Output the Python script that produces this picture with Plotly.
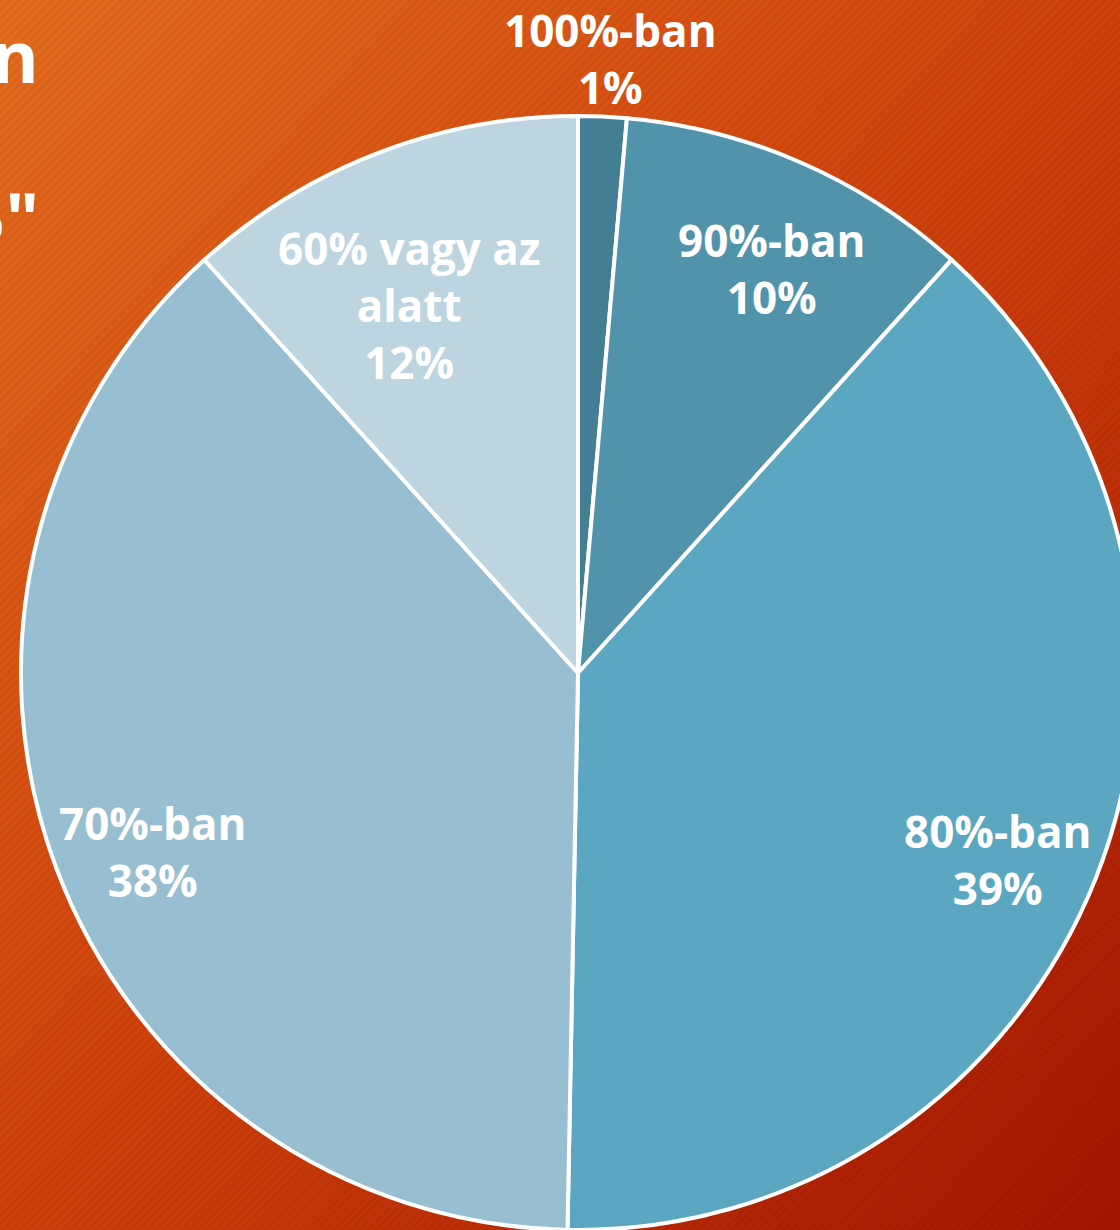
import base64, math
import plotly.graph_objects as go

# ---- data ----
categories = ["100%-ban", "90%-ban", "80%-ban", "70%-ban", "60% vagy az<br>alatt"]
shares = [1.4, 10.3, 38.6, 38.0, 11.7]
slice_colors = ["#437e93", "#5193ab", "#5ba6c0", "#98bed1", "#bdd5e0"]

# ---- layout constants ----
W, H = 1140, 1230
CX, CY, R = 578, 673, 557
LABEL_RADIUS = [1.11, 0.80, 0.825, 0.83, 0.715]
LABEL_ANGLE_SHIFT = [0.5, 2.2, 2.6, -2.5, -4.0]   # degrees
LABEL_DY = [3, -3, -2, -2, -7]                     # px fine tuning
FONT = "Open Sans"

bg_svg = f'''<svg xmlns="http://www.w3.org/2000/svg" width="{W}" height="{H}">
<defs>
<linearGradient id="g" x1="0" y1="0" x2="1" y2="1">
<stop offset="0" stop-color="#e46d1e"/>
<stop offset="0.5" stop-color="#cf410c"/>
<stop offset="1" stop-color="#a31400"/>
</linearGradient>
<pattern id="p" width="6" height="6" patternUnits="userSpaceOnUse" patternTransform="rotate(45)">
<rect width="3" height="6" fill="#000" opacity="0.045"/>
</pattern>
</defs>
<rect width="{W}" height="{H}" fill="url(#g)"/>
<rect width="{W}" height="{H}" fill="url(#p)"/>
</svg>'''
bg_uri = "data:image/svg+xml;base64," + base64.b64encode(bg_svg.encode()).decode()

dom_x = [max(0.0, (CX - R) / W), min(1.0, (CX + R) / W)]
dom_y = [max(0.0, (H - CY - R) / H), min(1.0, (H - CY + R) / H)]

fig = go.Figure(go.Pie(
    labels=categories,
    values=shares,
    sort=False,
    direction="clockwise",
    rotation=0,
    marker=dict(colors=slice_colors, line=dict(color="white", width=4)),
    textinfo="none",
    hoverinfo="label+percent",
    showlegend=False,
    domain=dict(x=dom_x, y=dom_y),
))

total = sum(shares)
cum = 0.0
for lab, v, k, sh, dy in zip(categories, shares, LABEL_RADIUS, LABEL_ANGLE_SHIFT, LABEL_DY):
    mid = (cum + v / 2) / total * 2 * math.pi + math.radians(sh)
    cum += v
    px = CX + k * R * math.sin(mid)
    py = CY - k * R * math.cos(mid) + dy
    fig.add_annotation(
        x=px / W, y=1 - py / H, xref="paper", yref="paper",
        text=f"<b>{lab}<br>{round(v / total * 100)}%</b>",
        showarrow=False, xanchor="center", yanchor="middle",
        font=dict(family=FONT, size=44, color="white"),
    )

# title fragments cut by the left edge of the frame
for txt, yy in [("an", 55), ('5"', 217)]:
    fig.add_annotation(
        x=41 / W, y=1 - yy / H, xref="paper", yref="paper",
        text=f"<b>{txt}</b>", showarrow=False, xanchor="right", yanchor="middle",
        font=dict(family=FONT, size=72, color="white"),
    )

fig.update_layout(
    width=W, height=H,
    margin=dict(l=0, r=0, t=0, b=0),
    paper_bgcolor="#cf410c",
    images=[dict(source=bg_uri, xref="paper", yref="paper", x=0, y=1,
                 sizex=1, sizey=1, sizing="stretch", layer="below")],
)

fig.write_html(
    "out.html",
    config={"displayModeBar": False},
    post_script="document.body.style.margin='0';document.body.style.overflow='hidden';",
)
